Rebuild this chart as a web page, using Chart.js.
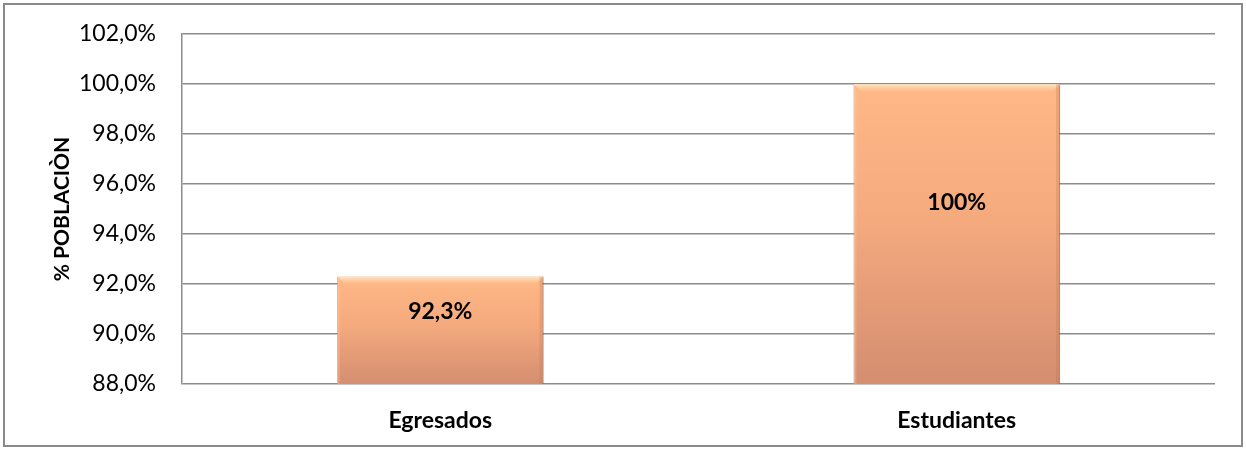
<!DOCTYPE html>
<html>
<head>
<meta charset="utf-8">
<script src="https://cdn.jsdelivr.net/npm/chart.js@4.4.1/dist/chart.umd.min.js"></script>
<style>
  html, body { margin:0; padding:0; background:#fff; }
  #wrap { width:1246px; height:450px; position:relative; }
</style>
</head>
<body>
<div id="wrap"><canvas id="chart-bar" width="1246" height="450"></canvas></div>
<script>
// ---- datos ----
const categorias = ['Egresados', 'Estudiantes'];
const poblacion  = [92.3, 100];
const etiquetas  = ['92,3%', '100%'];
const etiquetaEn = [90.9, 95.25];   // altura (en % del eje) donde va el texto dentro de la barra
const yMin = 88, yMax = 102, yPaso = 2;

const FONT = 'Lato, "Open Sans", sans-serif';

// gradiente vertical para cada barra
function barFill(ctx){
  const c = ctx.chart;
  if(!c.chartArea || !c.scales.y) return '#F6AA7D';
  const y = c.scales.y;
  const top = y.getPixelForValue(poblacion[ctx.dataIndex]);
  const bot = y.getPixelForValue(y.min);
  const g = c.ctx.createLinearGradient(0, top, 0, bot);
  g.addColorStop(0, '#FFB887');
  g.addColorStop(0.45, '#F5AA7E');
  g.addColorStop(1, '#D48E70');
  return g;
}

// marco exterior + bisel + etiquetas
const extras = {
  id: 'extras',
  beforeDatasetsDraw(chart){
    const ctx = chart.ctx;
    ctx.save();
    ctx.shadowColor = 'rgba(0,0,0,0.3)';
    ctx.shadowBlur = 5;
    ctx.shadowOffsetX = 2;
    ctx.shadowOffsetY = 0;
  },
  afterDatasetsDraw(chart){
    const ctx = chart.ctx;
    ctx.restore();
    const meta = chart.getDatasetMeta(0);
    const ys = chart.scales.y;
    const b = chart.chartArea.bottom;
    meta.data.forEach((bar, i) => {
      const l = bar.x - bar.width/2, r = bar.x + bar.width/2, t = bar.y;
      // bisel superior
      const bg = ctx.createLinearGradient(0, t, 0, t + 9);
      bg.addColorStop(0, 'rgba(255,235,200,0.95)');
      bg.addColorStop(1, 'rgba(255,200,150,0)');
      ctx.fillStyle = bg;
      ctx.beginPath();
      ctx.moveTo(l, t); ctx.lineTo(r, t); ctx.lineTo(r - 9, t + 9); ctx.lineTo(l + 9, t + 9);
      ctx.closePath(); ctx.fill();
      // bordes laterales
      ctx.fillStyle = 'rgba(190,110,70,0.25)';
      ctx.fillRect(r - 4, t, 4, b - t);
      ctx.fillStyle = 'rgba(255,210,170,0.25)';
      ctx.fillRect(l, t, 3, b - t);
      // etiqueta
      ctx.fillStyle = '#000';
      ctx.font = 'bold 23px ' + FONT;
      ctx.textAlign = 'center';
      ctx.textBaseline = 'middle';
      ctx.fillText(etiquetas[i], bar.x, ys.getPixelForValue(etiquetaEn[i]));
    });
  },
  afterDraw(chart){
    const ctx = chart.ctx;
    ctx.save();
    ctx.strokeStyle = '#8a8a8a';
    ctx.lineWidth = 2;
    ctx.strokeRect(4, 4, chart.width - 8, chart.height - 8);
    ctx.restore();
  }
};

new Chart(document.getElementById('chart-bar'), {
  type: 'bar',
  data: {
    labels: categorias,
    datasets: [{
      label: '% Población',
      data: poblacion,
      backgroundColor: barFill,
      borderColor: 'rgba(205,130,90,0.6)',
      borderWidth: 1,
      borderSkipped: false,
      categoryPercentage: 0.4,
      barPercentage: 1
    }]
  },
  options: {
    responsive: false,
    animation: false,
    devicePixelRatio: 1,
    clip: 0,
    layout: { padding: { top: 34, right: 31, bottom: 0, left: 50 } },
    plugins: { legend: { display: false }, tooltip: { enabled: false } },
    scales: {
      x: {
        grid: { display: false, drawTicks: false },
        border: { display: false },
        ticks: { color: '#000', font: { family: FONT, size: 23, weight: 'bold' }, padding: 23 },
        afterFit(s){ s.height = 66; s.paddingLeft = 0; s.paddingRight = 0; }
      },
      y: {
        min: yMin, max: yMax,
        grid: { color: '#8c8c8c', lineWidth: 1.5, drawTicks: false },
        border: { display: true, color: '#8c8c8c', width: 1.5 },
        ticks: {
          stepSize: yPaso, padding: 26, color: '#000',
          font: { family: FONT, size: 23 },
          callback: v => v.toFixed(1).replace('.', ',') + '%'
        },
        title: {
          display: true, text: '% POBLACIÒN', color: '#000',
          font: { family: FONT, size: 21, weight: 'bold' },
          padding: { top: 0, bottom: 0 }
        },
        afterFit(s){ s.width = 132; s.paddingTop = 0; s.paddingBottom = 0; }
      }
    }
  },
  plugins: [extras]
});
</script>
</body>
</html>
